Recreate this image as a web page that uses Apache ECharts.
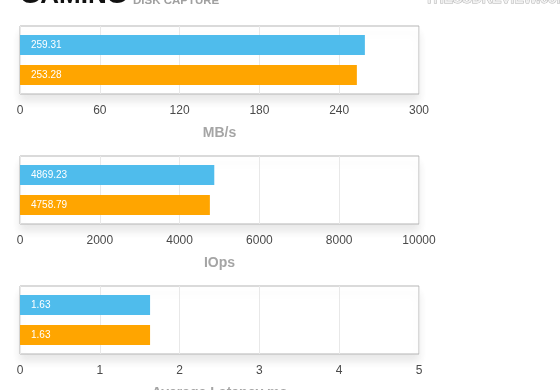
<!DOCTYPE html>
<html>
<head>
<meta charset="utf-8">
<script src="https://cdn.jsdelivr.net/npm/echarts@6/dist/echarts.min.js"></script>
<style>
html,body{margin:0;padding:0;background:#fff;}
#c{width:560px;height:390px;}
</style>
</head>
<body>
<div id="c"></div>
<script>
// ---- data ----
var seriesNames = ['Drive A', 'Drive B'];
var seriesColors = ['#4FBCEC', '#FFA500'];
var mbpsValues = [259.31, 253.28];
var iopsValues = [4869.23, 4758.79];
var latencyValues = [1.63, 1.63];
var panelNames = ['MB/s', 'IOps', 'Average Latency ms'];
var panelMax = [300, 10000, 5];
var panelInterval = [60, 2000, 1];
var panelValues = [mbpsValues, iopsValues, latencyValues];
var titleText = 'GAMING';
var subtitleText = 'DISK CAPTURE';
var logoText = 'THESSDREVIEW.com';

var FONT = '"Liberation Sans", Arial, Helvetica, sans-serif';
var gridTops = [26, 156, 286];

var grids = [], xAxes = [], yAxes = [], series = [];
for (var i = 0; i < 3; i++) {
  grids.push({
    left: 20, top: gridTops[i], width: 399, height: 68,
    outerBoundsMode: 'none', containLabel: false,
    show: true, borderColor: '#b5b5b5', borderWidth: 1,
    backgroundColor: '#ffffff',
    shadowBlur: 8, shadowColor: 'rgba(0,0,0,0.09)', shadowOffsetY: 7
  });
  xAxes.push({
    gridIndex: i, type: 'value', min: 0, max: panelMax[i], interval: panelInterval[i],
    name: panelNames[i], nameLocation: 'middle', nameGap: 32,
    nameTextStyle: { color: '#a5a5a5', fontSize: 14, fontWeight: 'bold', fontFamily: FONT },
    axisLine: { show: false }, axisTick: { show: false },
    axisLabel: { color: '#4a4a4a', fontSize: 12, margin: 11, fontFamily: FONT,
      formatter: function (v) { return String(v); } },
    splitLine: { show: true, lineStyle: { color: '#e8e8e8', width: 1 } }
  });
  yAxes.push({
    gridIndex: i, type: 'category', data: [''], inverse: true,
    axisLine: { show: false }, axisTick: { show: false }, axisLabel: { show: false },
    splitLine: { show: false }
  });
  for (var s = 0; s < 2; s++) {
    series.push({
      name: seriesNames[s], type: 'bar', xAxisIndex: i, yAxisIndex: i,
      data: [panelValues[i][s]], barWidth: 20, barGap: '50%',
      itemStyle: { color: seriesColors[s] },
      label: {
        show: true, position: 'insideLeft', distance: 11,
        color: '#ffffff', fontSize: 10, fontFamily: FONT,
        formatter: function (p) { return p.value.toFixed(2); }
      },
      animation: false, silent: true
    });
  }
}

var chart = echarts.init(document.getElementById('c'), null, { renderer: 'canvas' });
chart.setOption({
  animation: false,
  backgroundColor: '#ffffff',
  grid: grids, xAxis: xAxes, yAxis: yAxes, series: series,
  graphic: [
    { type: 'text', x: 20, y: -4, style: { text: titleText, font: 'bold 26px ' + FONT, fill: '#111111', verticalAlign: 'middle' } },
    { type: 'text', x: 133, y: 1, style: { text: subtitleText, font: 'bold 11.5px ' + FONT, fill: '#a0a0a0', verticalAlign: 'middle' } },
    { type: 'text', x: 425, y: -1, style: { text: logoText, font: 'bold 14px ' + FONT, fill: '#f2f2f2', stroke: '#b0b0b0', lineWidth: 1, verticalAlign: 'middle' } }
  ]
});
</script>
</body>
</html>
